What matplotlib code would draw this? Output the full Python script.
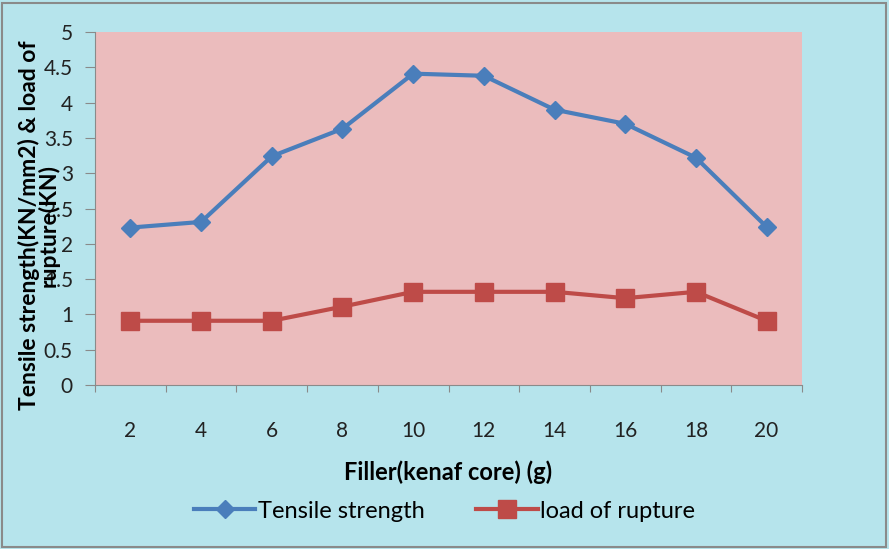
import matplotlib
matplotlib.use('Agg')
import matplotlib.pyplot as plt
from matplotlib.patches import Rectangle
import numpy as np

# data
filler = [2, 4, 6, 8, 10, 12, 14, 16, 18, 20]
tensile = [2.23, 2.31, 3.24, 3.63, 4.41, 4.38, 3.90, 3.70, 3.22, 2.24]
rupture = [0.91, 0.91, 0.91, 1.11, 1.32, 1.32, 1.32, 1.23, 1.32, 0.91]
yticks = [0, 0.5, 1, 1.5, 2, 2.5, 3, 3.5, 4, 4.5, 5]

plt.rcParams['font.family'] = ['Lato', 'DejaVu Sans']

fig = plt.figure(figsize=(8.89, 5.49), dpi=100)
fig.patch.set_facecolor('#b6e4ec')
fig.patches.append(Rectangle((0.002, 0.003), 0.995, 0.992, transform=fig.transFigure,
                             fill=False, edgecolor='#8a8a8a', linewidth=1.5))

ax = fig.add_axes([0.107, 0.2987, 0.795, 0.643])
ax.set_facecolor('#ebbcbd')

x = np.arange(len(filler))
ax.plot(x, tensile, color='#4a7ebb', linewidth=3, marker='D', markersize=9,
        label='Tensile strength')
ax.plot(x, rupture, color='#be4b48', linewidth=3, marker='s', markersize=13,
        label='load of rupture')

ax.set_xlim(-0.5, len(filler) - 0.5)
ax.set_ylim(0, 5)
ax.set_yticks(yticks)
ax.set_yticklabels([f'{v:g}' for v in yticks], fontsize=15, color='#222222')

# category axis: tick marks between categories, labels at the centres
ax.set_xticks(np.arange(-0.5, len(filler), 1))
ax.set_xticklabels([])
ax.set_xticks(x, minor=True)
ax.set_xticklabels([str(v) for v in filler], minor=True, fontsize=15, color='#222222')
ax.tick_params(axis='x', which='minor', length=0, pad=26)
ax.tick_params(axis='x', which='major', length=5, color='#8a8a8a')
ax.tick_params(axis='y', length=7, color='#8a8a8a', pad=9)

for s in ['top', 'right']:
    ax.spines[s].set_visible(False)
for s in ['left', 'bottom']:
    ax.spines[s].set_color('#8a8a8a')

ax.set_xlabel('Filler(kenaf core) (g)', fontsize=17, fontweight='bold', labelpad=14)
fig.text(0.044, 0.59, 'Tensile strength(KN/mm2) & load of\nrupture(KN)', rotation=90,
         ha='center', va='center', fontsize=16.5, fontweight='bold', linespacing=0.85)

fig.legend(loc='center', bbox_to_anchor=(0.5, 0.069), ncol=2, frameon=False,
           fontsize=17, handlelength=2.6, handletextpad=0.1, columnspacing=2.2)

fig.savefig('out.png', dpi=100, facecolor=fig.get_facecolor())
